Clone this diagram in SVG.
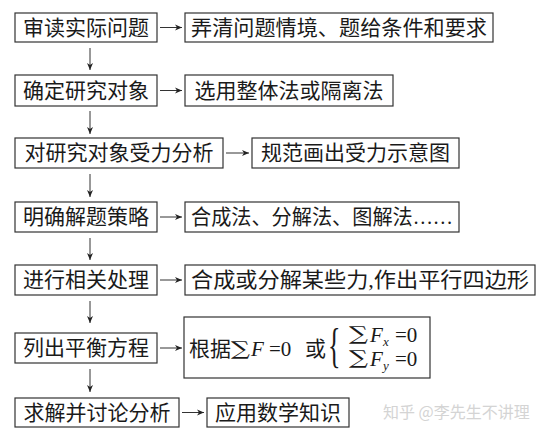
<svg xmlns="http://www.w3.org/2000/svg" width="552" height="440" viewBox="0 0 552 440">
<defs>
<marker id="ah" markerWidth="8" markerHeight="8" refX="7" refY="4" orient="auto" markerUnits="userSpaceOnUse">
<path d="M0,1 L7,4 L0,7 L2,4 Z" fill="#222"/>
</marker>
<style>
.box{fill:#fff;stroke:#333;stroke-width:1.2}
.t{font-family:"Liberation Serif","Noto Sans CJK SC",serif;font-size:21px;fill:#1a1a1a;text-anchor:middle}
.m{font-family:"Liberation Serif","Noto Sans CJK SC",serif;font-size:21px;fill:#1a1a1a}
.s{font-family:"DejaVu Serif",serif;font-size:19px;fill:#1a1a1a}
.i{font-style:italic}
.sub{font-family:"Liberation Serif",serif;font-size:13px;font-style:italic;fill:#1a1a1a}
.c{stroke:#333;stroke-width:1;fill:none;marker-end:url(#ah)}
</style>
</defs>
<rect width="552" height="440" fill="#fff"/>
<g id="connectors">
<line class="c" x1="160" y1="27.5" x2="182" y2="27.5"/>
<line class="c" x1="160" y1="90.5" x2="182" y2="90.5"/>
<line class="c" x1="226" y1="153" x2="249" y2="153"/>
<line class="c" x1="160" y1="217" x2="182" y2="217"/>
<line class="c" x1="160" y1="280" x2="182" y2="280"/>
<line class="c" x1="160" y1="348" x2="182" y2="348"/>
<line class="c" x1="182" y1="412.5" x2="204" y2="412.5"/>
<line class="c" x1="90" y1="48" x2="90" y2="70"/>
<line class="c" x1="90" y1="111" x2="90" y2="134"/>
<line class="c" x1="90" y1="174" x2="90" y2="197"/>
<line class="c" x1="90" y1="238" x2="90" y2="260"/>
<line class="c" x1="90" y1="301" x2="90" y2="323"/>
<line class="c" x1="90" y1="369" x2="90" y2="392"/>
</g>
<g id="n1"><rect class="box" x="15" y="13" width="142" height="29"/><text class="t" x="86" y="35">审读实际问题</text></g>
<g id="n1b"><rect class="box" x="185" y="13" width="308" height="29"/><text class="t" x="339" y="35" textLength="296" lengthAdjust="spacingAndGlyphs">弄清问题情境、题给条件和要求</text></g>
<g id="n2"><rect class="box" x="15" y="75" width="142" height="31"/><text class="t" x="86" y="98">确定研究对象</text></g>
<g id="n2b"><rect class="box" x="185" y="75" width="208" height="31"/><text class="t" x="289" y="98">选用整体法或隔离法</text></g>
<g id="n3"><rect class="box" x="15" y="138" width="208" height="30"/><text class="t" x="119" y="160">对研究对象受力分析</text></g>
<g id="n3b"><rect class="box" x="252" y="138" width="207" height="30"/><text class="t" x="355.5" y="160">规范画出受力示意图</text></g>
<g id="n4"><rect class="box" x="15" y="202" width="142" height="30"/><text class="t" x="86" y="224">明确解题策略</text></g>
<g id="n4b"><rect class="box" x="185" y="202" width="274" height="30"/><text class="t" x="322" y="224" textLength="262" lengthAdjust="spacingAndGlyphs">合成法、分解法、图解法……</text></g>
<g id="n5"><rect class="box" x="15" y="265" width="142" height="30"/><text class="t" x="86" y="287">进行相关处理</text></g>
<g id="n5b"><rect class="box" x="185" y="265" width="350" height="30"/><text class="t" x="360" y="287" textLength="338" lengthAdjust="spacingAndGlyphs">合成或分解某些力,作出平行四边形</text></g>
<g id="n6"><rect class="box" x="15" y="333" width="142" height="30"/><text class="t" x="86" y="355">列出平衡方程</text></g>
<g id="n6b"><rect class="box" x="184" y="317" width="246" height="61"/>
<text class="m" x="189" y="356">根据</text>
<text class="s" transform="translate(231,355) scale(1.4,1)">∑</text>
<text class="m i" x="251" y="356">F</text>
<text class="m" x="269" y="356">=0</text>
<text class="m" x="305" y="356">或</text>
<text class="m" transform="translate(328,362) scale(1,1.9)" style="font-size:26px">{</text>
<text class="s" transform="translate(349,340) scale(1.4,1)">∑</text>
<text class="m i" x="370" y="342">F</text>
<text class="sub" x="383" y="346">x</text>
<text class="m" x="395" y="342">=0</text>
<text class="s" transform="translate(349,364) scale(1.4,1)">∑</text>
<text class="m i" x="370" y="366">F</text>
<text class="sub" x="383" y="370">y</text>
<text class="m" x="395" y="366">=0</text>
</g>
<g id="n7"><rect class="box" x="15" y="398" width="164" height="29"/><text class="t" x="97" y="420">求解并讨论分析</text></g>
<g id="n7b"><rect class="box" x="207" y="398" width="142" height="29"/><text class="t" x="278" y="420">应用数学知识</text></g>
<text x="383" y="418" font-family="Noto Sans CJK SC,sans-serif" font-size="16" fill="#d4d4d4">知乎 @李先生不讲理</text>
</svg>
